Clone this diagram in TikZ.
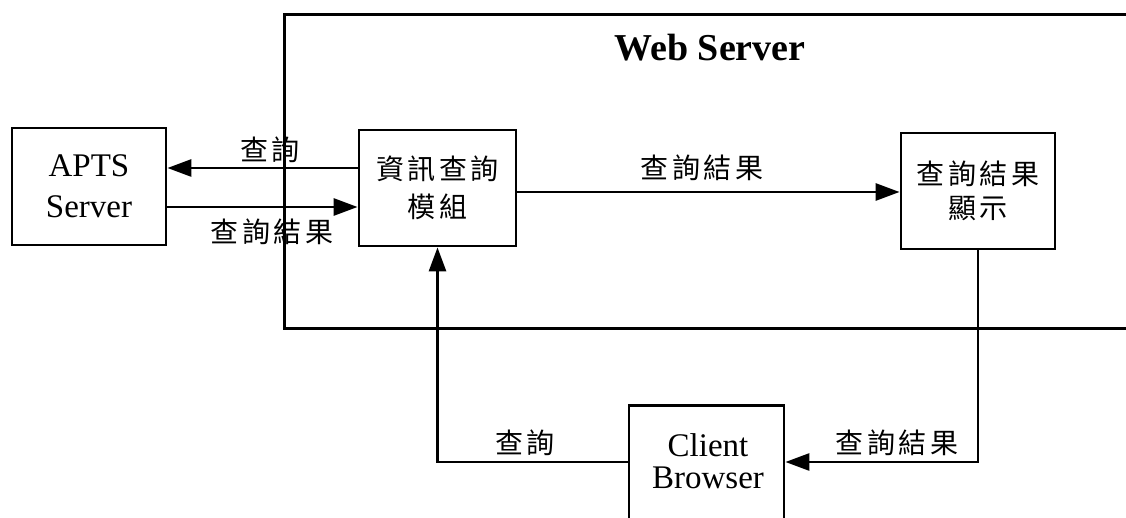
\documentclass[tikz,border=0pt]{standalone}
\usepackage{fontspec}
\setmainfont{Liberation Serif}
\newfontfamily\cjk[LetterSpace=12]{Noto Sans CJK TC}
\usetikzlibrary{arrows.meta}
\begin{document}
\begin{tikzpicture}[x=1pt,y=1pt,
  box/.style={draw, line width=2.8pt, inner sep=0pt, align=center},
  conn/.style={line width=2.8pt},
  arr/.style={conn,-{Triangle[length=24pt,width=17pt]}},
  zh/.style={font=\cjk\fontsize{28}{32}\selectfont},
  en/.style={font=\fontsize{32}{34}\selectfont}]
\useasboundingbox (0,0) rectangle (1126,517);
\clip (0,0) rectangle (1126,517);
% Web server frame (open on the right)
\node[box, anchor=north west, minimum width=1000pt, minimum height=314pt] (ws) at (283,504) {};
\node[font=\bfseries\fontsize{38}{40}\selectfont] (wst) at (710,469) {Web Server};
% boxes
\node[box, minimum width=154pt, minimum height=117pt, font=\fontsize{33}{41}\selectfont] (apts) at (89,330.5) {APTS\\Server};
\node[box, minimum width=157pt, minimum height=116pt, font=\cjk\fontsize{28}{38}\selectfont] (mod) at (437.5,329) {資訊查詢\\模組};
\node[box, minimum width=154pt, minimum height=116pt, font=\cjk\fontsize{28}{34}\selectfont] (disp) at (978,326) {查詢結果\\顯示};
\node[box, minimum width=155pt, minimum height=200pt, anchor=north] (cb) at (706.5,113) {};
\node[align=center, font=\fontsize{33}{32}\selectfont] (cbt) at (708,56) {Client\\Browser};
% connectors
\draw[arr] (mod.west |- 0,349) -- (apts.east |- 0,349);
\draw[arr] (apts.east |- 0,310) -- (mod.west |- 0,310);
\draw[arr] (mod.east |- 0,325) -- (disp.west |- 0,325);
\draw[arr] (cb.west |- 0,55) -| (mod.south);
\draw[arr] (disp.south) |- (cb.east |- 0,55);
% labels
\node[zh] (l1) at (270,367) {查詢};
\node[zh] (l2) at (272,285) {查詢結果};
\node[zh] (l3) at (702,349) {查詢結果};
\node[zh] (l4) at (525,74) {查詢};
\node[zh] (l5) at (897,74) {查詢結果};
\end{tikzpicture}
\end{document}
